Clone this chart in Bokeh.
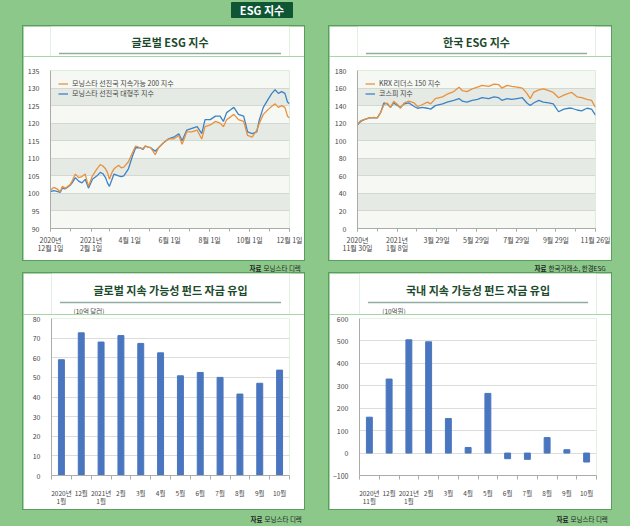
from datetime import date
from bokeh.plotting import figure
from bokeh.models import (ColumnDataSource, FixedTicker, Range1d, Label,
                          Legend, LegendItem, Spacer)
from bokeh.layouts import column, row
from bokeh.embed import file_html
from bokeh.resources import INLINE

FONT = "Noto Sans CJK KR"
GREEN = "#8cc88a"
BORDER = "#5b9d60"
TITLE_C = "#1c4a2c"
SEP_C = "#93aba3"
AX_C = "#a9aca7"
LBL_C = "#454545"
ORANGE = "#e8913e"
BLUE = "#3e82c6"
BAR = "#4a76bf"

# ---------------- data ----------------
# Global ESG index (days since 2020-12-01)
g_days = [0, 5, 10, 15, 18, 22, 25, 30, 33, 38, 43, 48, 53, 58, 64, 71, 76, 80, 84, 87,
          90, 94, 97, 104, 108, 112, 119, 125, 130, 137, 141, 145, 149, 153, 160, 165,
          173, 180, 188, 196, 201, 208, 216, 224, 231, 236, 244, 252, 259, 264, 269, 275,
          280, 287, 295, 301, 308, 315, 319, 325, 333, 338, 343, 348, 353, 358, 362, 365]
g_sust200 = [101, 101.7, 101.3, 100.5, 102, 101.5, 101.8, 102.5, 103.5, 105.5, 104.5, 104.8,
             105.5, 102, 105, 107, 108.2, 107.8, 107, 106, 104, 106, 107, 108, 107.3, 107.5,
             109, 111.5, 113.5, 113, 112.7, 113.5, 113.2, 113, 111, 113, 114.5, 115.5, 115.5,
             116.5, 114, 117.5, 117.5, 118, 115.5, 119, 119.5, 120.5, 120, 119, 121, 121.8,
             122.5, 121, 120.5, 116.5, 116, 118, 120, 122.5, 124, 124.8, 125.5, 124.5, 125,
             124.5, 122, 121.5]
g_large = [100.5, 100.8, 100.6, 100.3, 101.5, 101.3, 101.6, 102.3, 103, 104.5, 103.5, 103,
           104, 101.5, 104, 105, 106, 105.6, 104.5, 103, 102, 104, 105.5, 105, 104.8, 105,
           107, 110.5, 113, 113, 112.5, 113.5, 113.2, 113, 112, 113, 114.5, 115.5, 116, 117,
           115, 118, 118.5, 119, 117, 121, 121, 122, 122, 120.5, 123, 123.8, 124.5, 122.5,
           122, 117.5, 117, 117.5, 121, 124.5, 127, 128.5, 129.5, 128.5, 129, 128.5, 126,
           125.5]
g_tick_dates = ["2020-12-01", "2021-01-01", "2021-02-01", "2021-03-01", "2021-04-01",
                "2021-05-01", "2021-06-01", "2021-07-01", "2021-08-01", "2021-09-01",
                "2021-10-01", "2021-11-01", "2021-12-01"]
g_labels = {"2020-12-01": "2020년\n12월 1일", "2021-02-01": "2021년\n2월 1일",
            "2021-04-01": "4월 1일", "2021-06-01": "6월 1일", "2021-08-01": "8월 1일",
            "2021-10-01": "10월 1일", "2021-12-01": "12월 1일"}
g_names = ["모닝스타 선진국 지속가능 200 지수", "모닝스타 선진국 대형주 지수"]

# Korea ESG index (days since 2020-11-30)
k_days = [0, 5, 10, 18, 25, 30, 35, 40, 45, 50, 55, 61, 65, 71, 78, 86, 91, 98, 106, 111,
          118, 129, 136, 146, 154, 159, 166, 174, 182, 189, 199, 207, 214, 219, 227, 234,
          242, 250, 257, 262, 267, 275, 282, 290, 297, 305, 313, 320, 325, 333, 340, 348,
          355, 361]
k_krx = [119, 123, 124, 126, 126.5, 126, 132, 141, 143, 138, 145, 141, 137, 143, 145, 143,
         139, 141, 144, 142, 148, 150, 153, 156, 161, 157, 156, 159, 161, 163, 162, 164.5,
         164, 160, 163, 162, 161, 160, 154, 148, 155, 158, 159, 157, 155, 149, 152, 154,
         155, 150, 149, 147, 146, 138]
k_kospi = [118, 122, 124, 126, 126, 126, 132, 143, 142, 138, 143, 140, 138, 142, 143, 139,
           137, 138, 137, 136, 140, 142, 144, 146, 148, 145, 144, 146, 147, 149, 148, 150,
           149, 146, 148, 147, 148, 149, 143, 140, 143, 146, 144, 143, 142, 133, 136, 137,
           137, 135, 134, 137, 136, 129]
k_ticks = [0, 30, 60, 90, 120, 150, 180, 211, 241, 271, 301, 331, 361]
k_labels = {0: "2020년\n11월 30일", 60: "2021년\n1월 8일", 120: "3월 29일", 180: "5월 29일",
            241: "7월 29일", 301: "9월 29일", 361: "11월 26일"}
k_names = ["KRX 리더스 150 지수", "코스피 지수"]

# Fund flows
months_global = ["2020년\n1월", "12월", "2021년\n1월", "2월", "3월", "4월", "5월", "6월",
                 "7월", "8월", "9월", "10월"]
flow_global = [59, 72.7, 68, 71.3, 67.3, 62.5, 50.8, 52.5, 50, 41.5, 47, 53.7]
months_korea = ["2020년\n11월", "12월", "2021년\n1월", "2월", "3월", "4월", "5월", "6월",
                "7월", "8월", "9월", "10월"]
flow_korea = [160, 330, 505, 496, 154, 25, 266, -25, -28, 69, 15, -40]


# ---------------- helpers ----------------
def blank(w, h, bg):
    p = figure(width=w, height=h, x_range=Range1d(0, w), y_range=Range1d(h, 0),
               output_backend="svg", toolbar_location=None, x_axis_location=None,
               y_axis_location=None, min_border=0)
    p.outline_line_color = None
    p.grid.visible = False
    p.background_fill_color = bg
    p.border_fill_color = bg
    return p


def header(w, h, title, ty, sy, unit=None, ux=0, uy=0):
    p = blank(w, h, "white")
    p.add_layout(Label(x=w / 2, y=ty, text=title, text_align="center",
                       text_baseline="middle", text_font=FONT, text_font_size="11px",
                       text_font_style="bold", text_color=TITLE_C))
    p.segment(x0=[10], y0=[sy], x1=[w - 10], y1=[sy], line_color=SEP_C, line_width=1.6)
    if unit:
        p.add_layout(Label(x=ux, y=uy, text=unit, text_align="left", text_baseline="middle",
                           text_font=FONT, text_font_size="6.5px", text_color=LBL_C))
    return p


def base_chart(w, h, xr, yr, mb):
    p = figure(width=w, height=h, x_range=Range1d(*xr), y_range=Range1d(*yr),
               output_backend="svg", toolbar_location=None,
               min_border_left=mb[0], min_border_right=mb[1],
               min_border_top=mb[2], min_border_bottom=mb[3])
    p.outline_line_color = None
    p.border_fill_color = "white"
    for ax in (p.xaxis[0], p.yaxis[0]):
        ax.axis_line_color = AX_C
        ax.major_label_text_font = FONT
        ax.major_label_text_font_size = "7px"
        ax.major_label_text_color = LBL_C
        ax.major_label_text_line_height = 0.85
    p.yaxis.major_tick_line_color = None
    p.yaxis.minor_tick_line_color = None
    p.yaxis.major_label_standoff = 5
    p.xgrid.visible = False
    return p


def line_chart(w, h, mb, days, s1, s2, names, yr, ystep, ticks, labels):
    p = base_chart(w, h, (days[0], days[-1]), yr, mb)
    p.background_fill_color = "#f5f8f3"
    yt = list(range(yr[0], yr[1] + 1, ystep))
    p.yaxis.ticker = FixedTicker(ticks=yt)
    p.ygrid.ticker = FixedTicker(ticks=yt)
    p.ygrid.grid_line_color = "#d3d9d1"
    p.ygrid.band_fill_color = "#e6eae4"
    p.ygrid.band_fill_alpha = 1
    majors = sorted(labels.keys())
    p.xaxis.ticker = FixedTicker(ticks=majors, minor_ticks=ticks)
    p.xaxis.major_label_overrides = labels
    p.xaxis.major_tick_line_color = AX_C
    p.xaxis.minor_tick_line_color = AX_C
    p.xaxis.major_tick_in = 0
    p.xaxis.major_tick_out = 3
    p.xaxis.minor_tick_in = 0
    p.xaxis.minor_tick_out = 3
    p.xaxis.major_label_standoff = 3
    src = ColumnDataSource(dict(d=days, a=s1, b=s2))
    rb = p.line("d", "b", source=src, color=BLUE, line_width=1.3)
    ra = p.line("d", "a", source=src, color=ORANGE, line_width=1.3)
    leg = Legend(items=[LegendItem(label=names[0], renderers=[ra]),
                        LegendItem(label=names[1], renderers=[rb])],
                 location="top_left", margin=8, padding=2, spacing=0,
                 glyph_width=10, glyph_height=9, label_height=9, label_standoff=4,
                 label_text_font=FONT, label_text_font_size="7px", label_text_color=LBL_C,
                 border_line_color=None, background_fill_alpha=0)
    p.add_layout(leg)
    return p


def bar_chart(w, h, mb, cats, vals, yr, ystep):
    n = len(cats)
    p = base_chart(w, h, (0.5, n + 0.5), yr, mb)
    p.background_fill_color = "white"
    yt = list(range(yr[0], yr[1] + 1, ystep))
    p.yaxis.ticker = FixedTicker(ticks=yt)
    p.ygrid.ticker = FixedTicker(ticks=yt)
    p.ygrid.grid_line_color = "#dcdcdc"
    xs = list(range(1, n + 1))
    p.xaxis.ticker = FixedTicker(ticks=xs, minor_ticks=[x - 0.5 for x in xs] + [n + 0.5])
    p.xaxis.major_label_overrides = {x: c for x, c in zip(xs, cats)}
    p.xaxis.major_label_text_font_size = "6.5px"
    p.xaxis.major_tick_line_color = None
    p.xaxis.minor_tick_line_color = AX_C
    p.xaxis.minor_tick_in = 0
    p.xaxis.minor_tick_out = 4
    p.xaxis.major_label_standoff = 6
    src = ColumnDataSource(dict(x=xs, v=vals))
    p.vbar(x="x", top="v", bottom=0, width=0.3, source=src, color=BAR)
    return p


def dnum(s, start):
    y, m, d = map(int, s.split("-"))
    return (date(y, m, d) - start).days


g0 = date(2020, 12, 1)
g_ticks = [dnum(s, g0) for s in g_tick_dates]
g_lab = {dnum(s, g0): t for s, t in g_labels.items()}

panel_style = {"border": f"1px solid {BORDER}", "box-sizing": "content-box"}

# top-left (content 281 x 234)
h_tl = header(281, 30, "글로벌 ESG 지수", 15, 27)
c_tl = line_chart(281, 204, (27, 15, 14, 32), g_days, g_sust200, g_large, g_names,
                  (90, 135), 5, g_ticks, g_lab)
p_tl = column(h_tl, c_tl, styles=panel_style)

# top-right (content 282 x 234)
h_tr = header(282, 30, "한국 ESG 지수", 15, 27)
c_tr = line_chart(282, 204, (28, 16, 14, 32), k_days, k_krx, k_kospi, k_names,
                  (0, 180), 20, k_ticks, k_labels)
p_tr = column(h_tr, c_tr, styles=panel_style)

# bottom-left (content 281 x 236)
h_bl = header(281, 41, "글로벌 지속 가능성 펀드 자금 유입", 16, 29, "(10억 달러)", 26, 37)
c_bl = bar_chart(281, 195, (28, 15, 4, 33), months_global, flow_global, (0, 80), 10)
p_bl = column(h_bl, c_bl, styles=panel_style)

# bottom-right (content 282 x 236)
h_br = header(282, 41, "국내 지속 가능성 펀드 자금 유입", 16, 29, "(10억원)", 27, 37)
c_br = bar_chart(282, 195, (27, 15, 4, 33), months_korea, flow_korea, (-100, 600), 100)
p_br = column(h_br, c_br, styles=panel_style)

# top banner
top = blank(630, 25, GREEN)
top.quad(left=[231], right=[292], top=[2], bottom=[17], color="#0e5634")
top.add_layout(Label(x=261.5, y=9.5, text="ESG 지수", text_align="center",
                     text_baseline="middle", text_font=FONT, text_font_size="11px",
                     text_font_style="bold", text_color="white"))


def source_strip(h, y, items):
    s = blank(630, h, GREEN)
    for xr, rest in items:
        s.add_layout(Label(x=xr, y=y, text="자료", text_align="right", text_baseline="middle",
                           text_font=FONT, text_font_size="6.5px", text_font_style="bold",
                           text_color="#1b1b1b"))
        s.add_layout(Label(x=xr + 2, y=y, text=rest, text_align="left",
                           text_baseline="middle", text_font=FONT, text_font_size="6.5px",
                           text_color="#1b1b1b"))
    return s


src1 = source_strip(11, 5.5, [(261, "모닝스타 디렉"), (546, "한국거래소, 한경ESG")])
src2 = source_strip(16, 8, [(262, "모닝스타 디렉"), (568, "모닝스타 디렉")])

layout = column(
    top,
    row(Spacer(width=22, height=236), p_tl, Spacer(width=23, height=236), p_tr),
    src1,
    row(Spacer(width=22, height=238), p_bl, Spacer(width=23, height=238), p_br),
    src2,
    styles={"background-color": GREEN},
)

open("out.html", "w").write(file_html(layout, INLINE))
